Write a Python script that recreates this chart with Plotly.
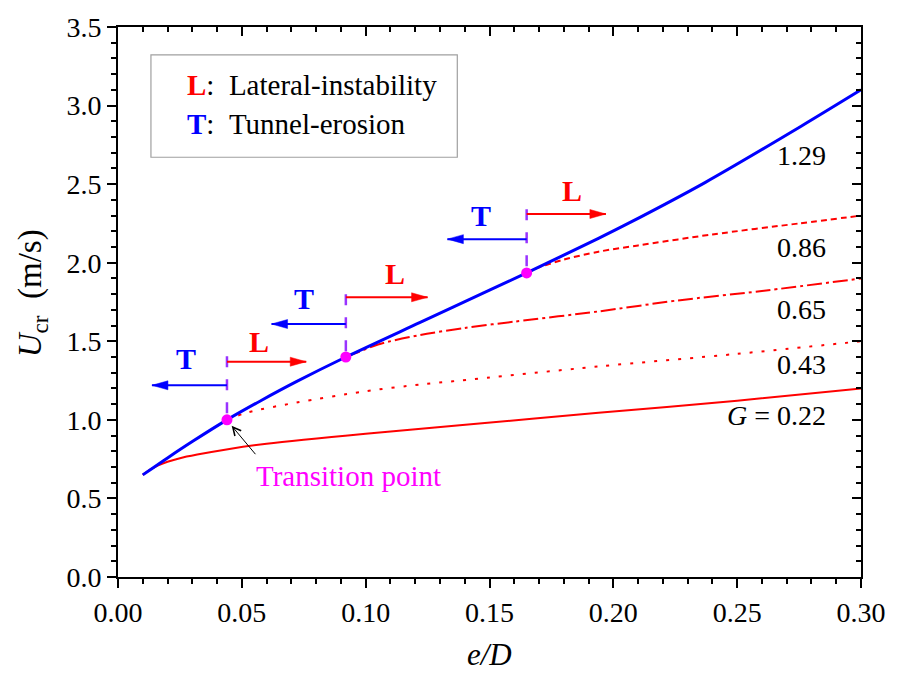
import plotly.graph_objects as go

# ---- data ------------------------------------------------------------
# G = 1.29 (tunnel-erosion envelope)
e_129 = [0.010, 0.020, 0.030, 0.044, 0.058, 0.072, 0.092, 0.122, 0.150, 0.165,
         0.194, 0.206, 0.237, 0.276, 0.300]
u_129 = [0.650, 0.758, 0.862, 1.000, 1.125, 1.243, 1.400, 1.620, 1.825, 1.935,
         2.155, 2.250, 2.510, 2.870, 3.100]

e_022 = [0.010, 0.013, 0.016, 0.020, 0.025, 0.032, 0.045, 0.060, 0.100, 0.138, 0.194, 0.250, 0.300]
u_022 = [0.650, 0.684, 0.709, 0.733, 0.756, 0.779, 0.815, 0.848, 0.912, 0.965, 1.045, 1.122, 1.200]

e_043 = [0.044, 0.052, 0.072, 0.099, 0.122, 0.138, 0.194, 0.250, 0.300]
u_043 = [1.00, 1.046, 1.11, 1.18, 1.225, 1.25, 1.34, 1.42, 1.50]

e_065 = [0.092, 0.096, 0.105, 0.122, 0.140, 0.160, 0.194, 0.226, 0.260, 0.300]
u_065 = [1.40, 1.425, 1.48, 1.54, 1.585, 1.625, 1.69, 1.76, 1.82, 1.90]

e_086 = [0.165, 0.170, 0.180, 0.194, 0.210, 0.240, 0.275, 0.300]
u_086 = [1.935, 1.97, 2.02, 2.07, 2.11, 2.18, 2.25, 2.30]

# transition points (L <-> T)
e_trans = [0.044, 0.092, 0.165]
u_trans = [1.00, 1.40, 1.935]
u_marker_top = [1.405, 1.80, 2.34]      # top of the dashed divider
u_arrow_T = [1.22, 1.61, 2.15]
e_tip_T = [0.0137, 0.062, 0.133]
u_arrow_L = [1.37, 1.78, 2.31]
e_tip_L = [0.076, 0.125, 0.197]
pos_T = [(0.0274, 1.39), (0.0753, 1.77), (0.1466, 2.30)]
pos_L = [(0.0568, 1.50), (0.112, 1.93), (0.1832, 2.46)]

G_labels = ["1.29", "0.86", "0.65", "0.43", "<i>G</i> = 0.22"]
G_label_u = [2.68, 2.10, 1.70, 1.355, 1.025]

x_ticks = [0.00, 0.05, 0.10, 0.15, 0.20, 0.25, 0.30]
y_ticks = [0.0, 0.5, 1.0, 1.5, 2.0, 2.5, 3.0, 3.5]

SERIF = "'Liberation Serif', 'Times New Roman', Times, serif"
RED = "#ff0000"
BLUE = "#0000ff"
PURPLE = "#9933ff"
MAGENTA = "#ff00ff"

fig = go.Figure()

# ---- curves ----------------------------------------------------------
def add_curve(x, y, color, width, dash):
    fig.add_trace(go.Scatter(x=x, y=y, mode="lines", hoverinfo="skip",
                             line=dict(color=color, width=width, dash=dash,
                                       shape="spline", smoothing=0.8)))

add_curve(e_022, u_022, RED, 2, "solid")
add_curve(e_043, u_043, RED, 2, "3px,9px")
add_curve(e_065, u_065, RED, 2, "15px,4px,3px,4px")
add_curve(e_086, u_086, RED, 2, "6px,4px")
add_curve(e_129, u_129, BLUE, 3, "solid")

# dashed dividers above each transition point
for e, u0, u1 in zip(e_trans, u_trans, u_marker_top):
    fig.add_trace(go.Scatter(x=[e, e], y=[u1, u0], mode="lines", hoverinfo="skip",
                             line=dict(color=PURPLE, width=2.5, dash="11px,12px")))

# transition point markers
fig.add_trace(go.Scatter(x=e_trans, y=u_trans, mode="markers", hoverinfo="skip",
                         marker=dict(color=MAGENTA, size=11, line=dict(width=0))))

# empty trace to activate the mirrored top/right axes
fig.add_trace(go.Scatter(x=[None], y=[None], xaxis="x2", yaxis="y2", hoverinfo="skip"))

shapes = []
annotations = []

def arrow(x0, x1, y, color):
    shapes.append(dict(type="line", xref="x", yref="y", x0=x0, x1=x1, y0=y, y1=y,
                       line=dict(color=color, width=2)))
    sgn = 1 if x1 > x0 else -1
    L, H = 16, 4.5
    path = f"M0,0 L{-sgn*L},{H} L{-sgn*L},{-H} Z"
    shapes.append(dict(type="path", xref="x", yref="y", xsizemode="pixel",
                       ysizemode="pixel", xanchor=x1, yanchor=y, path=path,
                       fillcolor=color, line=dict(color=color, width=0.5)))

for i, e in enumerate(e_trans):
    arrow(e, e_tip_T[i], u_arrow_T[i], BLUE)
    arrow(e, e_tip_L[i], u_arrow_L[i], RED)
    annotations.append(dict(x=pos_T[i][0], y=pos_T[i][1], xref="x", yref="y",
                            text="<b>T</b>", showarrow=False,
                            font=dict(family=SERIF, size=30, color=BLUE)))
    annotations.append(dict(x=pos_L[i][0], y=pos_L[i][1], xref="x", yref="y",
                            text="<b>L</b>", showarrow=False,
                            font=dict(family=SERIF, size=30, color=RED)))

# curve labels
for txt, u in zip(G_labels, G_label_u):
    annotations.append(dict(x=0.2865, y=u, xref="x", yref="y", text=txt,
                            showarrow=False, xanchor="right",
                            font=dict(family=SERIF, size=28, color="black")))

# transition point note
annotations.append(dict(x=0.093, y=0.645, xref="x", yref="y", text="Transition point",
                        showarrow=False, font=dict(family=SERIF, size=29, color=MAGENTA)))
annotations.append(dict(x=0.0459, y=0.962, ax=0.056, ay=0.772, xref="x", yref="y",
                        axref="x", ayref="y", text="", showarrow=True,
                        arrowhead=5, arrowsize=1.6, arrowwidth=1, arrowcolor="black"))

# key box
shapes.append(dict(type="rect", xref="x", yref="y", x0=0.0133, x1=0.137,
                   y0=2.671, y1=3.323, line=dict(color="#a0a0a0", width=1.2),
                   fillcolor="white", layer="below"))
annotations.append(dict(x=0.0270, y=3.13, xref="x", yref="y", xanchor="left",
                        showarrow=False,
                        text=f"<span style='color:{RED}'><b>L</b></span>:&nbsp;&nbsp;Lateral-instability",
                        font=dict(family=SERIF, size=29, color="black")))
annotations.append(dict(x=0.0270, y=2.88, xref="x", yref="y", xanchor="left",
                        showarrow=False,
                        text=f"<span style='color:{BLUE}'><b>T</b></span>:&nbsp;&nbsp;Tunnel-erosion",
                        font=dict(family=SERIF, size=29, color="black")))

# axis titles
annotations.append(dict(x=-0.115, y=0.515, xref="paper", yref="paper", textangle=-90,
                        xanchor="center", yanchor="middle",
                        showarrow=False, text="<i>U</i><sub>cr</sub>&nbsp;&nbsp;(m/s)",
                        font=dict(family=SERIF, size=33, color="black")))
annotations.append(dict(x=0.5, y=-0.141, xref="paper", yref="paper",
                        xanchor="center", yanchor="middle",
                        showarrow=False, text="<i>e/D</i>",
                        font=dict(family=SERIF, size=31, color="black")))

tickfont = dict(family=SERIF, size=28, color="black")
common = dict(showgrid=False, zeroline=False, linecolor="black",
              tickcolor="black", tickwidth=1.5)
minor_out_x = dict(dtick=0.01, ticks="outside", ticklen=5, tickcolor="black", tickwidth=1.5)
minor_out_y = dict(dtick=0.1, ticks="outside", ticklen=5, tickcolor="black", tickwidth=1.5)
minor_in_x = dict(dtick=0.01, ticks="inside", ticklen=5, tickcolor="black", tickwidth=1.5)
minor_in_y = dict(dtick=0.1, ticks="inside", ticklen=5, tickcolor="black", tickwidth=1.5)

fig.update_layout(
    width=898, height=673, autosize=False,
    margin=dict(l=118, r=35, t=24, b=96),
    paper_bgcolor="white", plot_bgcolor="white",
    showlegend=False,
    shapes=shapes, annotations=annotations,
    xaxis=dict(range=[0, 0.30], tickvals=x_ticks,
               ticktext=[f"{v:.2f}" for v in x_ticks], ticks="outside", ticklen=9,
               minor=minor_out_x, showline=True, linewidth=2, mirror=True,
               tickfont=tickfont, **common),
    yaxis=dict(range=[0, 3.5], tickvals=y_ticks,
               ticktext=[f"{v:.1f}" for v in y_ticks], ticks="outside", ticklen=9,
               minor=minor_out_y, showline=True, linewidth=2, mirror=True,
               tickfont=tickfont, **common),
    xaxis2=dict(range=[0, 0.30], overlaying="x", side="top", anchor="y2",
                tickvals=x_ticks, showticklabels=False, ticks="inside", ticklen=9,
                minor=minor_in_x, showline=False, **common),
    yaxis2=dict(range=[0, 3.5], overlaying="y", side="right", anchor="x2",
                tickvals=y_ticks, showticklabels=False, ticks="inside", ticklen=9,
                minor=minor_in_y, showline=False, **common),
)

fig.write_html("out.html")
